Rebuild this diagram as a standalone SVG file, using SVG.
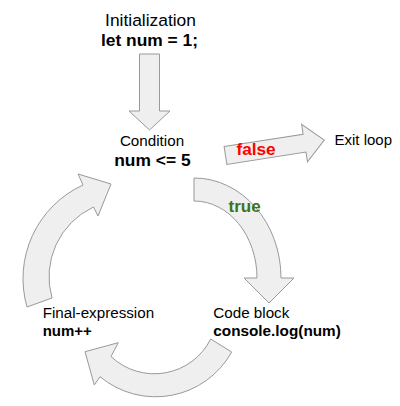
<svg xmlns="http://www.w3.org/2000/svg" width="400" height="406" viewBox="0 0 400 406">
<style>
.t{font-family:"Liberation Sans",Arial,sans-serif;fill:#000}
.b{font-weight:bold}
.arr{fill:#efefef;stroke:#999;stroke-width:1;stroke-linejoin:miter}
</style>
<rect width="400" height="406" fill="#fff"/>
<g id="connectors">
  <g id="init-to-condition">
    <polygon class="arr" points="139.5,54 159.5,54 159.5,111 170,111 149.5,130 129,111 139.5,111"/>
  </g>
  <g id="condition-to-exit">
    <polygon class="arr" transform="translate(225.5,155.5) rotate(-8.9)" points="0,-9 80,-9 80,-19 100,0 80,19 80,9 0,9"/>
    <text class="t b" x="236.5" y="154.5" font-size="17.2" fill="#ff0000" style="fill:#ff0000">false</text>
  </g>
  <g id="condition-to-codeblock">
    <path class="arr" d="M194,178 A87,100 0 0 1 281,278 L294,278 L269,303 L244,278 L257,278 A63,77 0 0 0 194,201 Z"/>
    <text class="t b" x="228.5" y="212" font-size="17" style="fill:#38761d">true</text>
  </g>
  <g id="codeblock-to-final">
    <path class="arr" d="M210.7,339 L231.7,352 A87,87 0 0 1 100,376.7 L94.3,385 L85,351.7 L118.3,342.7 L111,356.5 A63,63 0 0 0 210.7,339 Z"/>
  </g>
  <g id="final-to-condition">
    <path class="arr" d="M27,307 A103,103 0 0 1 83,185 L78,174 L111,184 L98,216 L93.5,207 A77,77 0 0 0 52,298 Z"/>
  </g>
</g>
<g id="node-init">
  <text class="t" x="150.5" y="26" font-size="17.4" text-anchor="middle">Initialization</text>
  <text class="t b" x="149.5" y="46" font-size="17.4" text-anchor="middle">let num = 1;</text>
</g>
<g id="node-condition">
  <text class="t" x="152" y="146" font-size="15.2" text-anchor="middle">Condition</text>
  <text class="t b" x="152.4" y="166" font-size="17.4" text-anchor="middle">num &lt;= 5</text>
</g>
<g id="node-exit">
  <text class="t" x="334.5" y="145" font-size="15">Exit loop</text>
</g>
<g id="node-codeblock">
  <text class="t" x="213.3" y="318" font-size="15.2">Code block</text>
  <text class="t b" x="213.3" y="336" font-size="15.3">console.log(num)</text>
</g>
<g id="node-final">
  <text class="t" x="42.7" y="318" font-size="15.2">Final-expression</text>
  <text class="t b" x="42.7" y="336" font-size="15">num++</text>
</g>
</svg>
